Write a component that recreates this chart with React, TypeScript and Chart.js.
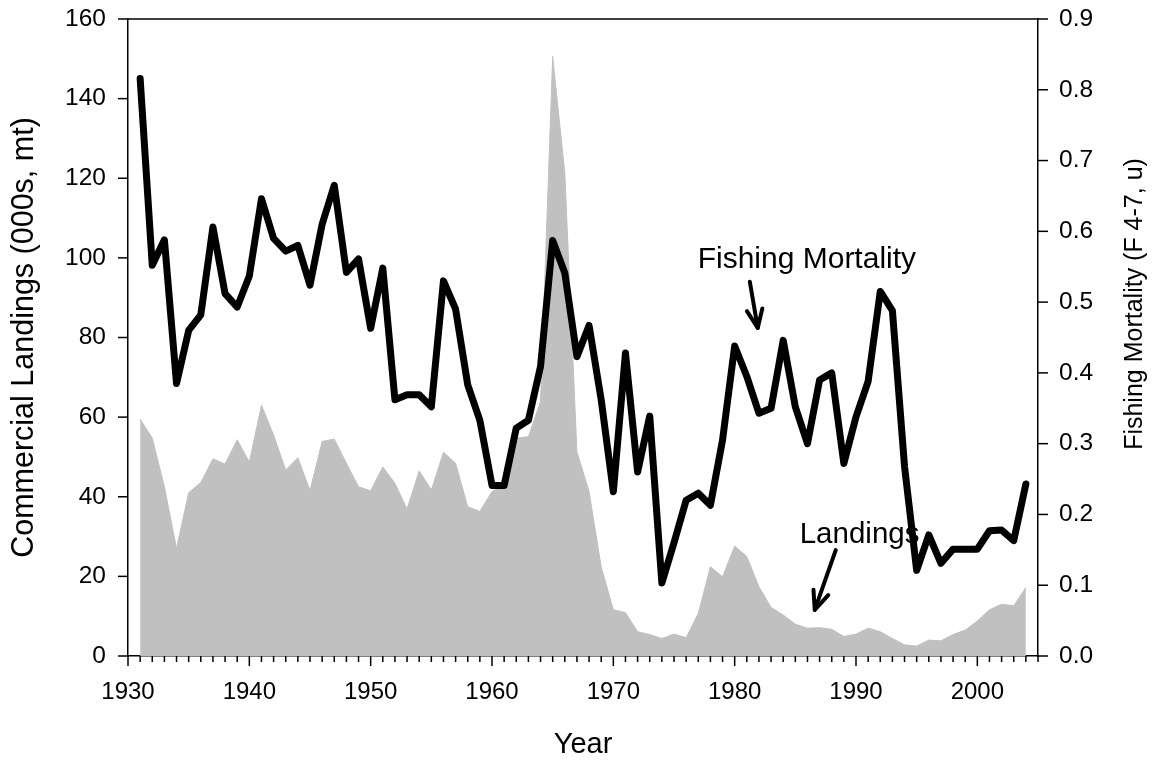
import React, { useEffect, useRef } from 'react';
import { Chart, registerables } from 'chart.js';

Chart.register(...registerables);

const FONT = '"Liberation Sans", Arial, Helvetica, sans-serif';

const years = [
  1931, 1932, 1933, 1934, 1935, 1936, 1937, 1938, 1939, 1940,
  1941, 1942, 1943, 1944, 1945, 1946, 1947, 1948, 1949, 1950,
  1951, 1952, 1953, 1954, 1955, 1956, 1957, 1958, 1959, 1960,
  1961, 1962, 1963, 1964, 1965, 1966, 1967, 1968, 1969, 1970,
  1971, 1972, 1973, 1974, 1975, 1976, 1977, 1978, 1979, 1980,
  1981, 1982, 1983, 1984, 1985, 1986, 1987, 1988, 1989, 1990,
  1991, 1992, 1993, 1994, 1995, 1996, 1997, 1998, 1999, 2000,
  2001, 2002, 2003, 2004,
];

// Commercial landings (000s, mt) - left axis
const landings = [
  59.5, 54.7, 42.5, 27.0, 41.0, 43.6, 49.5, 48.2, 54.3, 48.7,
  63.0, 55.5, 46.7, 49.8, 41.5, 53.9, 54.5, 48.4, 42.5, 41.5,
  47.5, 43.4, 36.9, 46.5, 41.7, 51.2, 48.4, 37.5, 36.3, 41.3,
  43.0, 54.7, 55.1, 63.9, 150.6, 121.3, 51.3, 41.3, 22.4, 11.6,
  10.9, 6.1, 5.4, 4.4, 5.5, 4.6, 10.7, 22.4, 19.9, 27.6,
  25.0, 17.4, 12.2, 10.3, 8.0, 7.0, 7.1, 6.7, 4.9, 5.5,
  7.0, 6.1, 4.4, 2.8, 2.5, 4.0, 3.8, 5.4, 6.5, 8.8,
  11.6, 13.0, 12.6, 17.2,
];

// Fishing mortality (F 4-7, u) - right axis
const fishingMortality = [
  0.816, 0.552, 0.588, 0.385, 0.460, 0.482, 0.606, 0.512, 0.493, 0.537,
  0.646, 0.590, 0.572, 0.580, 0.524, 0.610, 0.665, 0.542, 0.561, 0.463,
  0.548, 0.362, 0.369, 0.369, 0.352, 0.530, 0.490, 0.383, 0.333, 0.241,
  0.241, 0.322, 0.333, 0.409, 0.587, 0.541, 0.423, 0.467, 0.362, 0.232,
  0.428, 0.260, 0.339, 0.103, 0.160, 0.220, 0.230, 0.213, 0.305, 0.438,
  0.395, 0.343, 0.350, 0.446, 0.352, 0.300, 0.390, 0.400, 0.272, 0.338,
  0.388, 0.515, 0.488, 0.268, 0.121, 0.171, 0.131, 0.151, 0.151, 0.151,
  0.177, 0.178, 0.163, 0.243,
];

const xTickValues = [1930, 1940, 1950, 1960, 1970, 1980, 1990, 2000];
const leftTickValues = [0, 20, 40, 60, 80, 100, 120, 140, 160];
const rightTickValues = [0, 0.1, 0.2, 0.3, 0.4, 0.5, 0.6, 0.7, 0.8, 0.9];

const leftTitle = 'Commercial Landings (000s, mt)';
const rightTitle = 'Fishing Mortality (F 4-7, u)';
const xTitle = 'Year';

// annotation anchors in data units: [year, landings-axis value]
const fmLabel = { text: 'Fishing Mortality', x: 1976.95, y: 97.5 };
const fmArrow = { from: [1981.25, 94.0], to: [1981.9, 82.4] };
const landLabel = { text: 'Landings', x: 1985.36, y: 28.5 };
const landArrow = { from: [1988.33, 26.6], to: [1986.6, 11.6] };

const decorPlugin = {
  id: 'decor',
  afterDraw(chart: any) {
    const { ctx, chartArea: a, scales } = chart;
    const xs = scales.x;
    const yl = scales.y;
    const yr = scales.y1;
    ctx.save();
    ctx.strokeStyle = '#000';
    ctx.lineWidth = 1.5;
    ctx.lineCap = 'butt';
    const seg = (x1: number, y1: number, x2: number, y2: number) => {
      ctx.beginPath();
      ctx.moveTo(x1, y1);
      ctx.lineTo(x2, y2);
      ctx.stroke();
    };
    // top frame line
    seg(a.left - 0.75, a.top, a.right + 0.75, a.top);
    // x ticks (major every 10 years, minor each year)
    for (let v = xs.min; v <= xs.max; v++) {
      const px = xs.getPixelForValue(v);
      seg(px, a.bottom, px, a.bottom + (v % 10 === 0 ? 10 : 6));
    }
    for (const v of leftTickValues) {
      const py = yl.getPixelForValue(v);
      seg(a.left - 10, py, a.left, py);
    }
    for (const v of rightTickValues) {
      const py = yr.getPixelForValue(v);
      seg(a.right, py, a.right + 10, py);
    }

    // right axis title (reads bottom to top)
    ctx.save();
    ctx.fillStyle = '#000';
    ctx.font = `25px ${FONT}`;
    ctx.textAlign = 'center';
    ctx.textBaseline = 'alphabetic';
    ctx.translate(a.right + 104, a.top + 285);
    ctx.rotate(-Math.PI / 2);
    ctx.fillText(rightTitle, 0, 0);
    ctx.restore();

    // annotations
    const arrow = (from: number[], to: number[]) => {
      const x1 = xs.getPixelForValue(from[0]);
      const y1 = yl.getPixelForValue(from[1]);
      const x2 = xs.getPixelForValue(to[0]);
      const y2 = yl.getPixelForValue(to[1]);
      ctx.save();
      ctx.strokeStyle = '#000';
      ctx.lineWidth = 4;
      ctx.lineCap = 'round';
      ctx.lineJoin = 'round';
      seg(x1, y1, x2, y2);
      const ang = Math.atan2(y1 - y2, x1 - x2);
      const len = 20;
      const spread = (23 * Math.PI) / 180;
      ctx.beginPath();
      ctx.moveTo(x2 + len * Math.cos(ang - spread), y2 + len * Math.sin(ang - spread));
      ctx.lineTo(x2, y2);
      ctx.lineTo(x2 + len * Math.cos(ang + spread), y2 + len * Math.sin(ang + spread));
      ctx.stroke();
      ctx.restore();
    };
    ctx.fillStyle = '#000';
    ctx.textAlign = 'left';
    ctx.textBaseline = 'alphabetic';
    ctx.font = `30px ${FONT}`;
    ctx.fillText(fmLabel.text, xs.getPixelForValue(fmLabel.x), yl.getPixelForValue(fmLabel.y));
    ctx.font = `29.5px ${FONT}`;
    ctx.fillText(landLabel.text, xs.getPixelForValue(landLabel.x), yl.getPixelForValue(landLabel.y));
    arrow(fmArrow.from, fmArrow.to);
    arrow(landArrow.from, landArrow.to);
    ctx.restore();
  },
};

export default function App() {
  const ref = useRef<HTMLCanvasElement>(null);
  useEffect(() => {
    const canvas = ref.current;
    if (!canvas) return;
    const chart = new Chart(canvas, {
      type: 'line',
      data: {
        datasets: [
          {
            label: 'Fishing Mortality',
            data: years.map((yv, i) => ({ x: yv, y: fishingMortality[i] })),
            yAxisID: 'y1',
            borderColor: '#000',
            borderWidth: 7,
            pointRadius: 0,
            fill: false,
            tension: 0,
            borderJoinStyle: 'round',
            borderCapStyle: 'round',
            order: 0,
          },
          {
            label: 'Landings',
            data: years.map((yv, i) => ({ x: yv, y: landings[i] })),
            yAxisID: 'y',
            borderColor: '#c0c0c0',
            borderWidth: 1,
            backgroundColor: '#c0c0c0',
            fill: 'origin',
            pointRadius: 0,
            tension: 0,
            order: 1,
          },
        ],
      },
      options: {
        responsive: false,
        animation: false,
        devicePixelRatio: 1,
        layout: { padding: { top: 19, left: 0, right: 0, bottom: 0 } },
        plugins: { legend: { display: false }, tooltip: { enabled: false } },
        scales: {
          x: {
            type: 'linear',
            min: 1930,
            max: 2005,
            grid: { display: false, drawTicks: false },
            border: { display: true, color: '#000', width: 1.5 },
            afterBuildTicks: (s: any) => {
              s.ticks = xTickValues.map((v) => ({ value: v }));
            },
            ticks: {
              padding: 22,
              color: '#000',
              font: { size: 24, family: FONT },
              maxRotation: 0,
              autoSkip: false,
              callback: (v: any) => String(v),
            },
            title: {
              display: true,
              text: xTitle,
              color: '#000',
              font: { size: 29, family: FONT },
              padding: { top: 0, bottom: 0 },
            },
            afterFit: (s: any) => {
              s.height = 106;
              s.paddingLeft = 0;
              s.paddingRight = 0;
            },
          },
          y: {
            type: 'linear',
            position: 'left',
            min: 0,
            max: 160,
            grid: { display: false, drawTicks: false },
            border: { display: true, color: '#000', width: 1.5 },
            afterBuildTicks: (s: any) => {
              s.ticks = leftTickValues.map((v) => ({ value: v }));
            },
            ticks: {
              padding: 22,
              color: '#000',
              font: { size: 24.5, family: FONT },
              callback: (v: any) => String(v),
            },
            title: {
              display: true,
              text: leftTitle,
              color: '#000',
              font: { size: 30.5, family: FONT },
              padding: { top: 6, bottom: 0 },
            },
            afterFit: (s: any) => {
              s.width = 128;
              s.paddingTop = 0;
              s.paddingBottom = 0;
            },
          },
          y1: {
            type: 'linear',
            position: 'right',
            min: 0,
            max: 0.9,
            grid: { display: false, drawTicks: false },
            border: { display: true, color: '#000', width: 1.5 },
            afterBuildTicks: (s: any) => {
              s.ticks = rightTickValues.map((v) => ({ value: v }));
            },
            ticks: {
              padding: 21,
              color: '#000',
              font: { size: 24.5, family: FONT },
              callback: (v: any) => Number(v).toFixed(1),
            },
            afterFit: (s: any) => {
              s.width = 119;
              s.paddingTop = 0;
              s.paddingBottom = 0;
            },
          },
        },
      } as any,
      plugins: [decorPlugin],
    });
    return () => chart.destroy();
  }, []);
  return (
    <div style={{ position: 'absolute', left: 0, top: 0, width: 1157, height: 762, background: '#fff' }}>
      <canvas ref={ref} width={1157} height={762} style={{ display: 'block' }} />
    </div>
  );
}
